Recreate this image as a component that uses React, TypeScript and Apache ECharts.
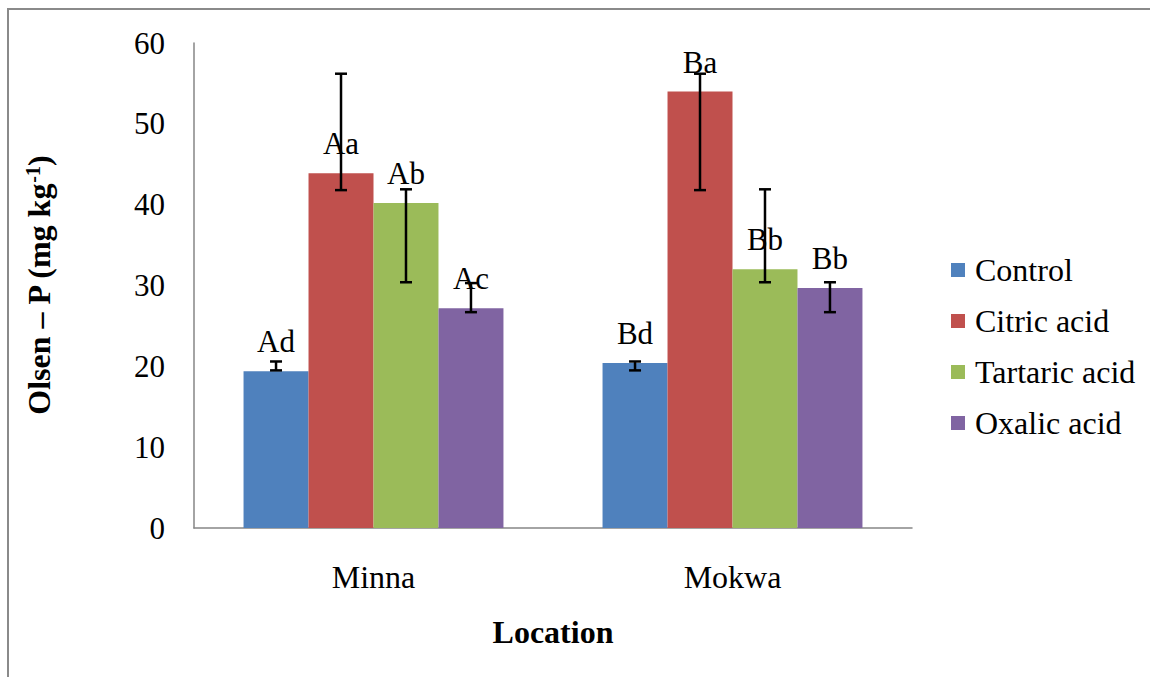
import React, { useEffect, useRef } from "react";
import * as echarts from "echarts";

// Locations on the x axis
const categories = ["Minna", "Mokwa"];

// Treatments (one bar series each)
const seriesNames = ["Control", "Citric acid", "Tartaric acid", "Oxalic acid"];
const seriesColors = ["#4F81BD", "#C0504D", "#9BBB59", "#8064A2"];

// Olsen-P means (mg kg-1), per location
const controlValues = [19.4, 20.4];
const citricValues = [43.9, 54.0];
const tartaricValues = [40.2, 32.0];
const oxalicValues = [27.2, 29.7];

// Mean separation letters, per location
const controlLetters = ["Ad", "Bd"];
const citricLetters = ["Aa", "Ba"];
const tartaricLetters = ["Ab", "Bb"];
const oxalicLetters = ["Ac", "Bb"];

// Error bar extents [low, high], per location
const controlError = [[19.5, 20.6], [19.5, 20.6]];
const citricError = [[41.8, 56.2], [41.8, 56.2]];
const tartaricError = [[30.4, 41.9], [30.4, 41.9]];
const oxalicError = [[26.7, 30.3], [26.7, 30.4]];

// Y axis ticks
const yMin = 0;
const yMax = 60;
const yInterval = 10;

const allValues = [controlValues, citricValues, tartaricValues, oxalicValues];
const allLetters = [controlLetters, citricLetters, tartaricLetters, oxalicLetters];
const allErrors = [controlError, citricError, tartaricError, oxalicError];

const CATEGORY_GAP = 0.276;
const FONT = "Liberation Serif";

export default function App() {
  const ref = useRef<HTMLDivElement>(null);

  useEffect(() => {
    if (!ref.current) return;
    const chart = echarts.init(ref.current, null, { renderer: "svg" });

    const barSeries = seriesNames.map((name, si) => ({
      name,
      type: "bar",
      data: allValues[si],
      itemStyle: { color: seriesColors[si] },
      barGap: "0%",
      barCategoryGap: CATEGORY_GAP * 100 + "%",
      label: {
        show: true,
        position: "top",
        distance: 14,
        fontFamily: FONT,
        fontSize: 31,
        color: "#000",
        formatter: (p: any) => allLetters[si][p.dataIndex],
      },
    }));

    // [categoryIndex, seriesIndex, low, high]
    const errorData: number[][] = [];
    allErrors.forEach((errs, si) => {
      errs.forEach((e, ci) => errorData.push([ci, si, e[0], e[1]]));
    });

    const errorSeries = {
      type: "custom",
      name: "error",
      z: 10,
      encode: { x: 0, y: [2, 3] },
      data: errorData,
      renderItem: (params: any, api: any) => {
        const ci = api.value(0);
        const si = api.value(1);
        const lo = api.value(2);
        const hi = api.value(3);
        const band = api.size([1, 0])[0];
        const barW = (band * (1 - CATEGORY_GAP)) / seriesNames.length;
        const x =
          api.coord([ci, 0])[0] + (si - (seriesNames.length - 1) / 2) * barW;
        const yLo = api.coord([ci, lo])[1];
        const yHi = api.coord([ci, hi])[1];
        const cap = 6;
        const style = { stroke: "#000", lineWidth: 2.5 };
        return {
          type: "group",
          children: [
            { type: "line", shape: { x1: x, y1: yLo, x2: x, y2: yHi }, style },
            { type: "line", shape: { x1: x - cap, y1: yHi, x2: x + cap, y2: yHi }, style },
            { type: "line", shape: { x1: x - cap, y1: yLo, x2: x + cap, y2: yLo }, style },
          ],
        };
      },
    };

    chart.setOption({
      animation: false,
      backgroundColor: "#fff",
      textStyle: { fontFamily: FONT },
      grid: { left: 194, right: 238, top: 43, bottom: 149, containLabel: false },
      legend: {
        data: seriesNames,
        orient: "vertical",
        left: 951,
        top: 254,
        padding: 0,
        icon: "rect",
        itemWidth: 14,
        itemHeight: 14,
        itemGap: 19,
        selectedMode: false,
        textStyle: {
          fontFamily: FONT,
          fontSize: 32,
          lineHeight: 32,
          color: "#000",
          padding: [0, 0, 0, 5],
        },
      },
      xAxis: {
        type: "category",
        data: categories,
        name: "Location",
        nameLocation: "middle",
        nameGap: 88,
        nameTextStyle: {
          fontFamily: FONT,
          fontSize: 32,
          fontWeight: "bold",
          color: "#000",
        },
        axisLine: { lineStyle: { color: "#868686", width: 1.5 } },
        axisTick: { show: false },
        axisLabel: {
          margin: 33,
          fontFamily: FONT,
          fontSize: 32,
          color: "#000",
        },
      },
      yAxis: {
        type: "value",
        min: yMin,
        max: yMax,
        interval: yInterval,
        name: "{b|Olsen – P (mg kg}{sup|-1}{b|)}",
        nameLocation: "middle",
        nameGap: 139,
        nameTextStyle: {
          rich: {
            b: { fontFamily: FONT, fontSize: 32, fontWeight: "bold", color: "#000" },
            sup: {
              fontFamily: FONT,
              fontSize: 20,
              fontWeight: "bold",
              color: "#000",
              verticalAlign: "top",
            },
          },
        },
        splitLine: { show: false },
        axisTick: { show: false },
        axisLine: { show: true, lineStyle: { color: "#868686", width: 1.5 } },
        axisLabel: {
          margin: 29,
          fontFamily: FONT,
          fontSize: 31,
          color: "#000",
        },
      },
      graphic: [
        {
          type: "line",
          shape: { x1: 8, y1: 9, x2: 1150, y2: 9 },
          style: { stroke: "#8a8a8a", lineWidth: 2 },
        },
        {
          type: "line",
          shape: { x1: 8, y1: 8, x2: 8, y2: 677 },
          style: { stroke: "#8a8a8a", lineWidth: 2 },
        },
      ],
      series: [...barSeries, errorSeries],
    });

    return () => chart.dispose();
  }, []);

  return (
    <div
      ref={ref}
      style={{ position: "fixed", left: 0, top: 0, width: 1150, height: 677 }}
    />
  );
}
